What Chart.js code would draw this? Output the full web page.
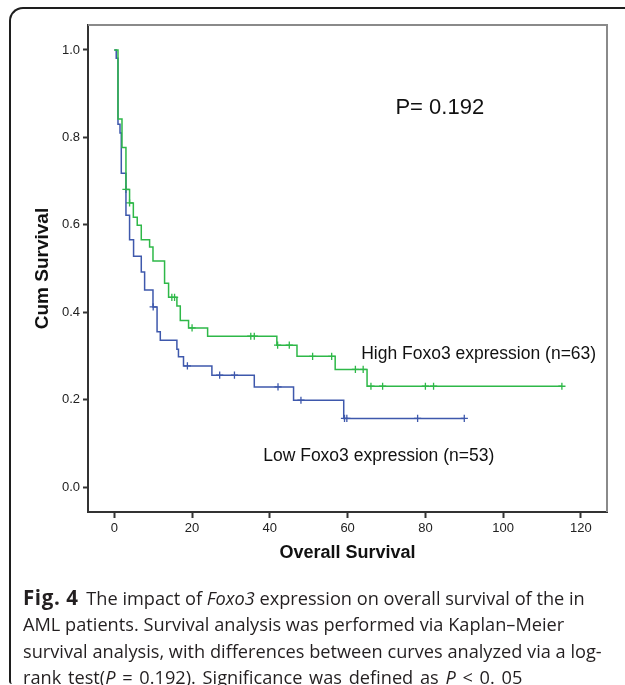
<!DOCTYPE html>
<html><head><meta charset="utf-8">
<script src="https://cdn.jsdelivr.net/npm/chart.js@4.4.1/dist/chart.umd.min.js"></script>
<style>
html,body{margin:0;padding:0;background:#fff;}
#wrap{position:relative;width:625px;height:685px;overflow:hidden;background:#fff;}
#frame{position:absolute;left:9px;top:7px;width:700px;height:675px;border-left:2px solid #1e1e1e;border-top:2px solid #1e1e1e;border-top-left-radius:14px;border-bottom-left-radius:3px;}
#c{position:absolute;left:0;top:0;width:625px;height:685px;}
#cap{position:absolute;left:23px;top:584px;font-family:"Open Sans",sans-serif;font-size:18.2px;line-height:26.3px;color:#231f20;white-space:nowrap;}
#cap b{font-weight:700;font-size:20.5px;letter-spacing:0.6px;margin-right:3px;}
#cap .l4{word-spacing:2px;}
</style></head>
<body><div id="wrap"><div id="frame"></div><canvas id="c" width="625" height="685"></canvas>
<div id="cap">
<div><b>Fig. 4</b> The impact of <i>Foxo3</i> expression on overall survival of the in</div>
<div>AML patients. Survival analysis was performed via Kaplan–Meier</div>
<div>survival analysis, with differences between curves analyzed via a log-</div>
<div class="l4">rank test(<i>P</i> = 0.192). Significance was defined as <i>P</i> &lt; 0. 05</div>
</div></div>
<script>
// ---- data ----
const xTicks = [0, 20, 40, 60, 80, 100, 120];
const yTicks = [0, 0.2, 0.4, 0.6, 0.8, 1.0];
const yTickLabels = ['0.0', '0.2', '0.4', '0.6', '0.8', '1.0'];

const highLabel = 'High Foxo3 expression (n=63)';
const lowLabel = 'Low Foxo3 expression (n=53)';
const pLabel = 'P= 0.192';

const highTimes = [0, 0.95, 1.98, 3.0, 3.93, 4.9, 5.9, 6.94, 9.08, 9.95, 12.93, 13.96, 16.1, 16.97, 19.1, 24.0, 41.8, 46.98, 56.8, 65.0, 115.1];
const highSurv  = [1, 0.842, 0.777, 0.681, 0.650, 0.617, 0.599, 0.566, 0.549, 0.517, 0.466, 0.434, 0.414, 0.381, 0.364, 0.345, 0.3245, 0.299, 0.269, 0.2306, 0.2306];
const highCensor = [3.0, 3.93, 14.8, 15.5, 20.0, 35.1, 36.0, 42.0, 45.0, 51.0, 55.9, 62.0, 64.0, 66.0, 69.0, 80.0, 82.1, 115.1];

const lowTimes = [0, 0.5, 0.95, 1.47, 1.8, 3.0, 3.93, 4.96, 6.94, 7.8, 9.95, 11.0, 11.83, 16.1, 16.5, 17.8, 25.1, 36.0, 46.1, 59.0, 90.0];
const lowSurv  = [1, 0.981, 0.83, 0.81, 0.718, 0.622, 0.566, 0.528, 0.492, 0.451, 0.412, 0.355, 0.336, 0.315, 0.298, 0.277, 0.256, 0.229, 0.1985, 0.157, 0.157];
const lowCensor = [10.0, 18.8, 27.1, 30.9, 42.1, 48.0, 59.2, 59.8, 78.0, 90.0];

// ---- helpers ----
const GREEN = '#2eb848', BLUE = '#3e58ac';
function pts(times, surv) { return times.map((t, i) => ({x: t, y: surv[i]})); }
function survAt(times, surv, t) { let s = surv[0]; for (let i = 0; i < times.length; i++) { if (times[i] <= t) s = surv[i]; } return s; }
function cens(ctimes, times, surv) { return ctimes.map(t => ({x: t, y: survAt(times, surv, t)})); }

const deco = {
  id: 'deco',
  afterDraw(chart) {
    const {ctx, chartArea: a, scales: {x, y}} = chart;
    ctx.save();
    ctx.strokeStyle = '#8a8a8a';
    ctx.lineWidth = 2;
    ctx.beginPath();
    ctx.moveTo(a.left, a.top); ctx.lineTo(a.right, a.top); ctx.lineTo(a.right, a.bottom);
    ctx.stroke();
    ctx.fillStyle = '#111';
    ctx.textAlign = 'left';
    ctx.textBaseline = 'middle';
    ctx.font = '22px "Liberation Sans", Arial, sans-serif';
    ctx.fillText(pLabel, x.getPixelForValue(72.3), y.getPixelForValue(0.867));
    ctx.font = '17.5px "Liberation Sans", Arial, sans-serif';
    ctx.fillText(highLabel, x.getPixelForValue(63.5), y.getPixelForValue(0.304));
    ctx.fillText(lowLabel, x.getPixelForValue(38.3), y.getPixelForValue(0.070));
    ctx.restore();
  }
};

const tickFont = {family: '"Liberation Sans", Arial, sans-serif', size: 13};
const titleFont = {family: '"Liberation Sans", Arial, sans-serif', size: 18, weight: 'bold'};
const yTitleFont = {family: '"Liberation Sans", Arial, sans-serif', size: 19, weight: 'bold'};

new Chart(document.getElementById('c'), {
  type: 'line',
  data: {
    datasets: [
      {data: pts(highTimes, highSurv), borderColor: GREEN, borderWidth: 1.5, pointRadius: 0, stepped: 'before', fill: false},
      {data: pts(lowTimes, lowSurv), borderColor: BLUE, borderWidth: 1.5, pointRadius: 0, stepped: 'before', fill: false},
      {data: cens(highCensor, highTimes, highSurv), showLine: false, pointStyle: 'cross', pointRadius: 3.6, pointBorderWidth: 1.3, borderColor: GREEN, pointBorderColor: GREEN},
      {data: cens(lowCensor, lowTimes, lowSurv), showLine: false, pointStyle: 'cross', pointRadius: 3.6, pointBorderWidth: 1.3, borderColor: BLUE, pointBorderColor: BLUE}
    ]
  },
  options: {
    responsive: false,
    animation: false,
    devicePixelRatio: 1,
    layout: {padding: {left: 0, top: 25, right: 18, bottom: 0}},
    plugins: {legend: {display: false}, tooltip: {enabled: false}},
    scales: {
      x: {
        type: 'linear', min: -6.76, max: 126.7,
        afterBuildTicks: s => { s.ticks = xTicks.map(v => ({value: v})); },
        afterFit: s => { s.height = 173; },
        ticks: {font: tickFont, color: '#222', padding: 3, autoSkip: false, maxRotation: 0, callback: v => String(v)},
        grid: {display: true, drawOnChartArea: false, drawTicks: true, tickLength: 6, tickColor: '#333', tickWidth: 2},
        border: {display: true, color: '#333', width: 2},
        title: {display: true, text: 'Overall Survival', font: titleFont, color: '#111', padding: {top: 0, bottom: 121}}
      },
      y: {
        type: 'linear', min: -0.0572, max: 1.0572,
        afterBuildTicks: s => { s.ticks = yTicks.map(v => ({value: v})); },
        afterFit: s => { s.width = 88; },
        ticks: {font: tickFont, color: '#222', padding: 3, autoSkip: false, callback: (v, i) => yTickLabels[i]},
        grid: {display: true, drawOnChartArea: false, drawTicks: true, tickLength: 5, tickColor: '#333', tickWidth: 2},
        border: {display: true, color: '#333', width: 2},
        title: {display: true, text: 'Cum Survival', font: yTitleFont, color: '#111', padding: {top: 31.5, bottom: 0}}
      }
    }
  },
  plugins: [deco]
});
</script>
</body></html>
